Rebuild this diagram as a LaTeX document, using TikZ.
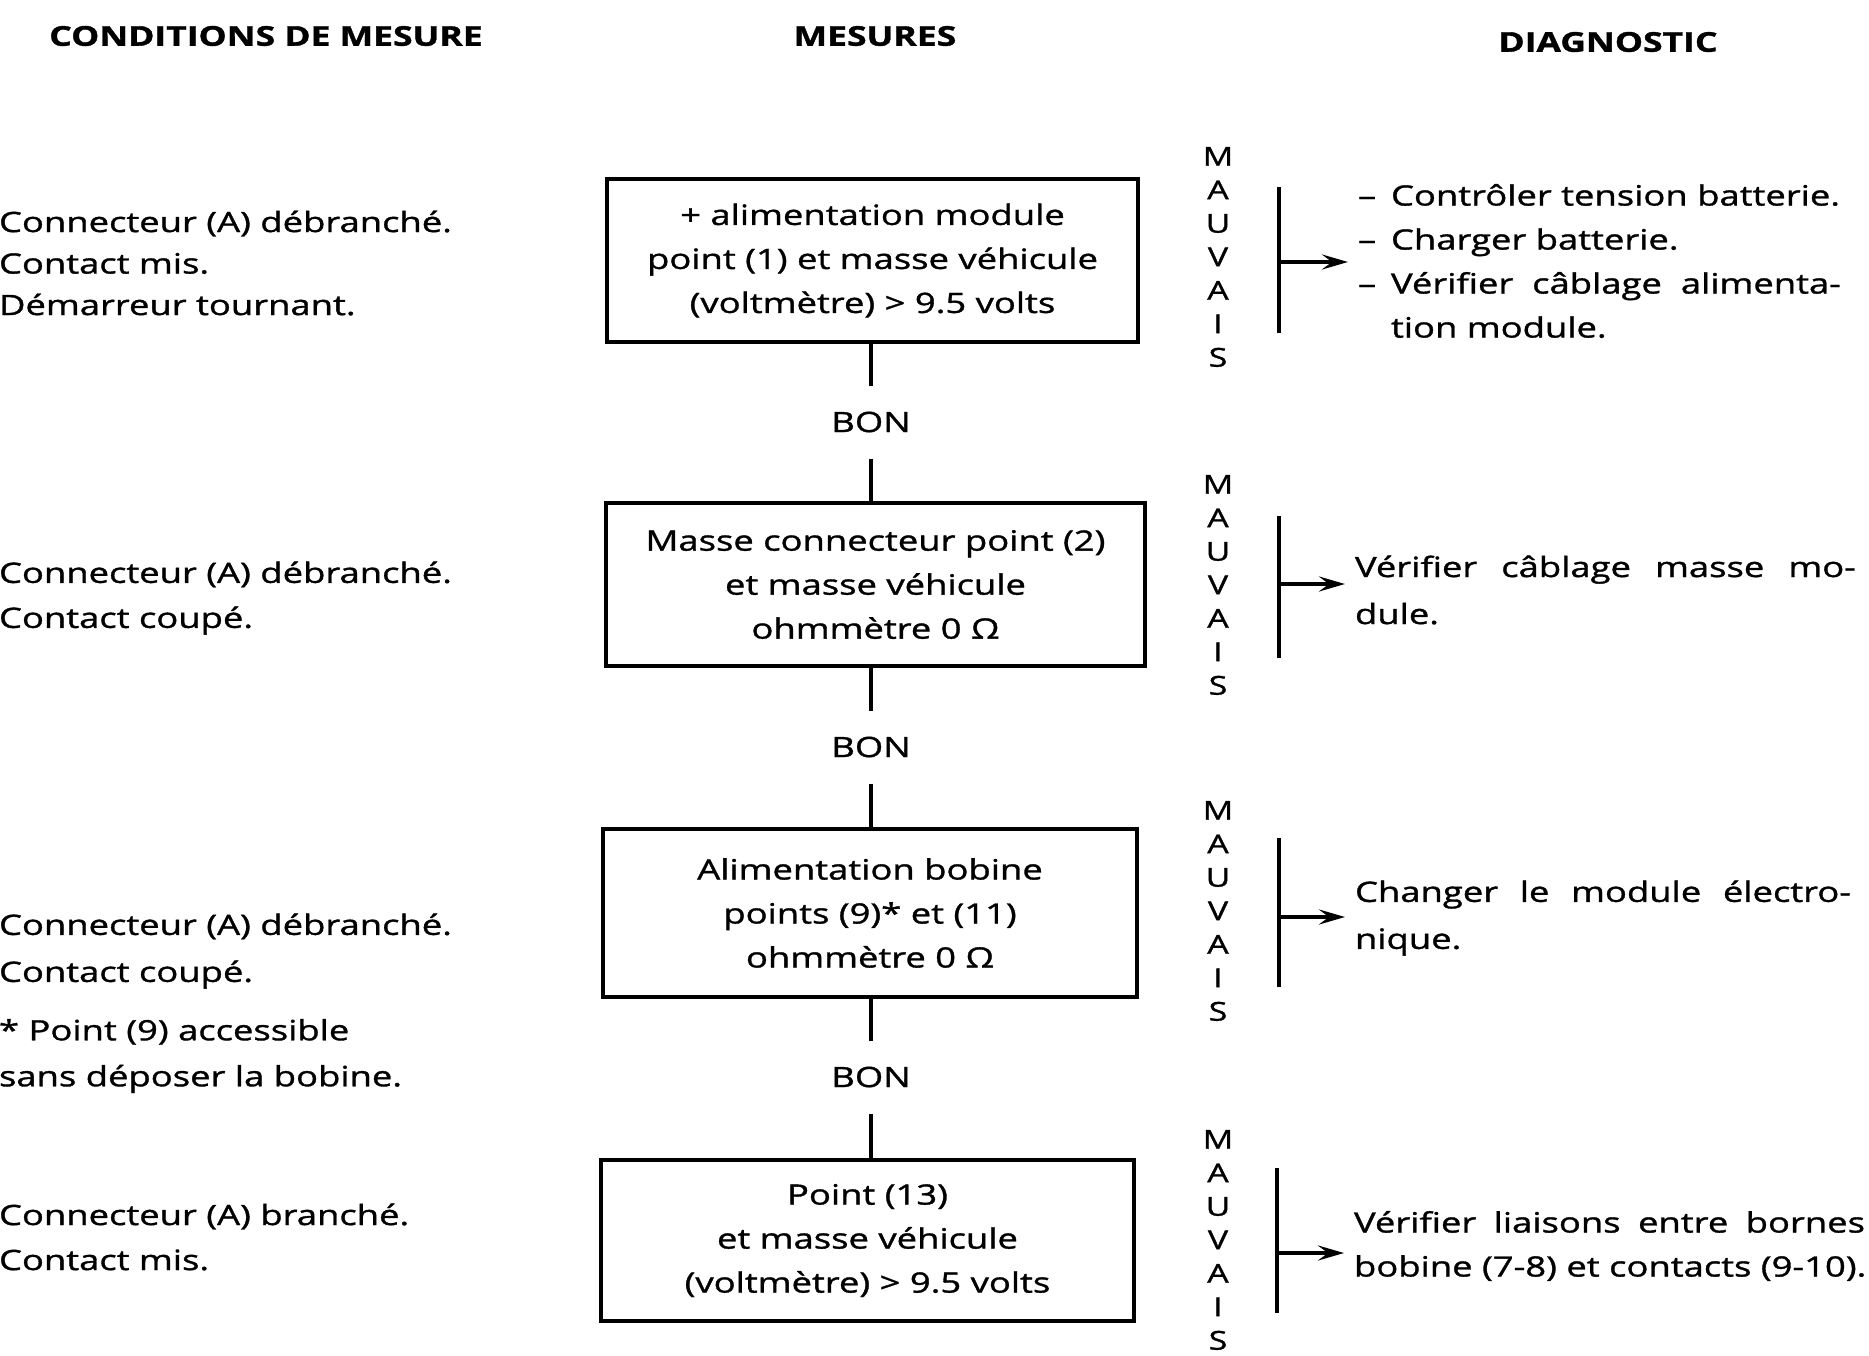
\documentclass[tikz,border=0pt]{standalone}
\usepackage{fontspec}
\setmainfont{Open Sans}[FakeStretch=1.3, FakeBold=1.2]
\usetikzlibrary{arrows.meta}
\begin{document}
\begin{tikzpicture}[x=1pt,y=-1pt,
  every node/.style={inner sep=0pt, outer sep=0pt},
  body/.style={font=\fontsize{28}{44}\selectfont},
  head/.style={font=\bfseries\fontsize{27.3}{30}\selectfont},
  mbox/.style={draw, line width=4pt, body, align=center},
  wire/.style={line width=4pt},
  bar/.style={line width=4pt},
  tip/.style={line width=4pt, -{Stealth[length=26pt,width=15pt,inset=10pt]}},
  vert/.style={font=\fontsize{26}{33.5}\selectfont, align=center},
  bon/.style={body, minimum height=73pt},
  leftcol/.style={body, anchor=west, align=left},
  diag/.style={body, anchor=west, align=left},
]
\useasboundingbox (0,0) rectangle (1869,1355);

% column headings
\node[head] (hcond) at (266,36) {CONDITIONS DE MESURE};
\node[head] (hmes)  at (875,36) {MESURES};
\node[head] (hdiag) at (1608,42) {DIAGNOSTIC};

% measurement boxes
\node[mbox, minimum width=531pt, minimum height=163pt] (m1) at (872.5,260.5)
  {+ alimentation module\\point (1) et masse véhicule\\(voltmètre) > 9.5 volts};
\node[mbox, minimum width=539pt, minimum height=163pt] (m2) at (875.5,584.5)
  {Masse connecteur point (2)\\et masse véhicule\\ohmmètre 0 Ω};
\node[mbox, minimum width=534pt, minimum height=168pt] (m3) at (870,913)
  {Alimentation bobine\\points (9)* et (11)\\ohmmètre 0 Ω};
\node[mbox, minimum width=533pt, minimum height=161pt] (m4) at (867.5,1240.5)
  {Point (13)\\et masse véhicule\\(voltmètre) > 9.5 volts};

% BON links between the boxes
\node[bon] (b1) at (871,422) {BON};
\node[bon] (b2) at (871,747) {BON};
\node[bon] (b3) at (871,1077) {BON};
\draw[wire] (b1.north |- m1.south) -- (b1.north);
\draw[wire] (b1.south) -- (b1.south |- m2.north);
\draw[wire] (b2.north |- m2.south) -- (b2.north);
\draw[wire] (b2.south) -- (b2.south |- m3.north);
\draw[wire] (b3.north |- m3.south) -- (b3.north);
\draw[wire] (b3.south) -- (b3.south |- m4.north);

% conditions
\node[leftcol, font=\fontsize{28}{41.5}\selectfont] (c1) at (-1,263) {Connecteur (A) débranché.\\Contact mis.\\Démarreur tournant.};
\node[leftcol, font=\fontsize{28}{45}\selectfont] (c2) at (-1,598) {Connecteur (A) débranché.\\Contact coupé.};
\node[leftcol, font=\fontsize{28}{47}\selectfont] (c3) at (-1,951) {Connecteur (A) débranché.\\Contact coupé.};
\node[leftcol, font=\fontsize{28}{46}\selectfont] (c3n) at (-1,1056) {* Point (9) accessible\\sans déposer la bobine.};
\node[leftcol, font=\fontsize{28}{45}\selectfont] (c4) at (-1,1237) {Connecteur (A) branché.\\Contact mis.};

% MAUVAIS columns
\node[vert] (v1) at (1218,257) {M\\A\\U\\V\\A\\I\\S};
\node[vert] (v2) at (1218,585) {M\\A\\U\\V\\A\\I\\S};
\node[vert] (v3) at (1218,911) {M\\A\\U\\V\\A\\I\\S};
\node[vert] (v4) at (1218,1240) {M\\A\\U\\V\\A\\I\\S};

% diagnostics
\node[diag] (d1) at (1358,261)
  {\makebox[33pt][l]{–}Contrôler tension batterie.\\
   \makebox[33pt][l]{–}Charger batterie.\\
   \makebox[33pt][l]{–}\makebox[450pt][s]{Vérifier câblage alimenta-}\\
   \hspace*{33pt}tion module.};
\node[diag, font=\fontsize{28}{47}\selectfont] (d2) at (1355,590)
  {\makebox[501pt][s]{Vérifier câblage masse mo-}\\dule.};
\node[diag, font=\fontsize{28}{47}\selectfont] (d3) at (1355,918)
  {\makebox[496pt][s]{Changer le module électro-}\\nique.};
\node[diag, font=\fontsize{28}{44}\selectfont] (d4) at (1354,1246)
  {\makebox[511pt][s]{Vérifier liaisons entre bornes}\\bobine (7-8) et contacts (9-10).};

% MAUVAIS brackets and arrows
\coordinate (t1) at (1279,187);  \coordinate (u1) at (1279,333);  \coordinate (a1) at (1279,262);
\coordinate (t2) at (1279,516);  \coordinate (u2) at (1279,658);  \coordinate (a2) at (1279,584);
\coordinate (t3) at (1279,838);  \coordinate (u3) at (1279,987);  \coordinate (a3) at (1279,917);
\coordinate (t4) at (1277,1168); \coordinate (u4) at (1277,1313); \coordinate (a4) at (1277,1253);
\foreach \i in {1,2,3,4} {
  \draw[bar] (t\i) -- (u\i);
  \draw[tip, shorten >=10pt] (a\i) -- (a\i -| d\i.west);
}
\end{tikzpicture}
\end{document}
